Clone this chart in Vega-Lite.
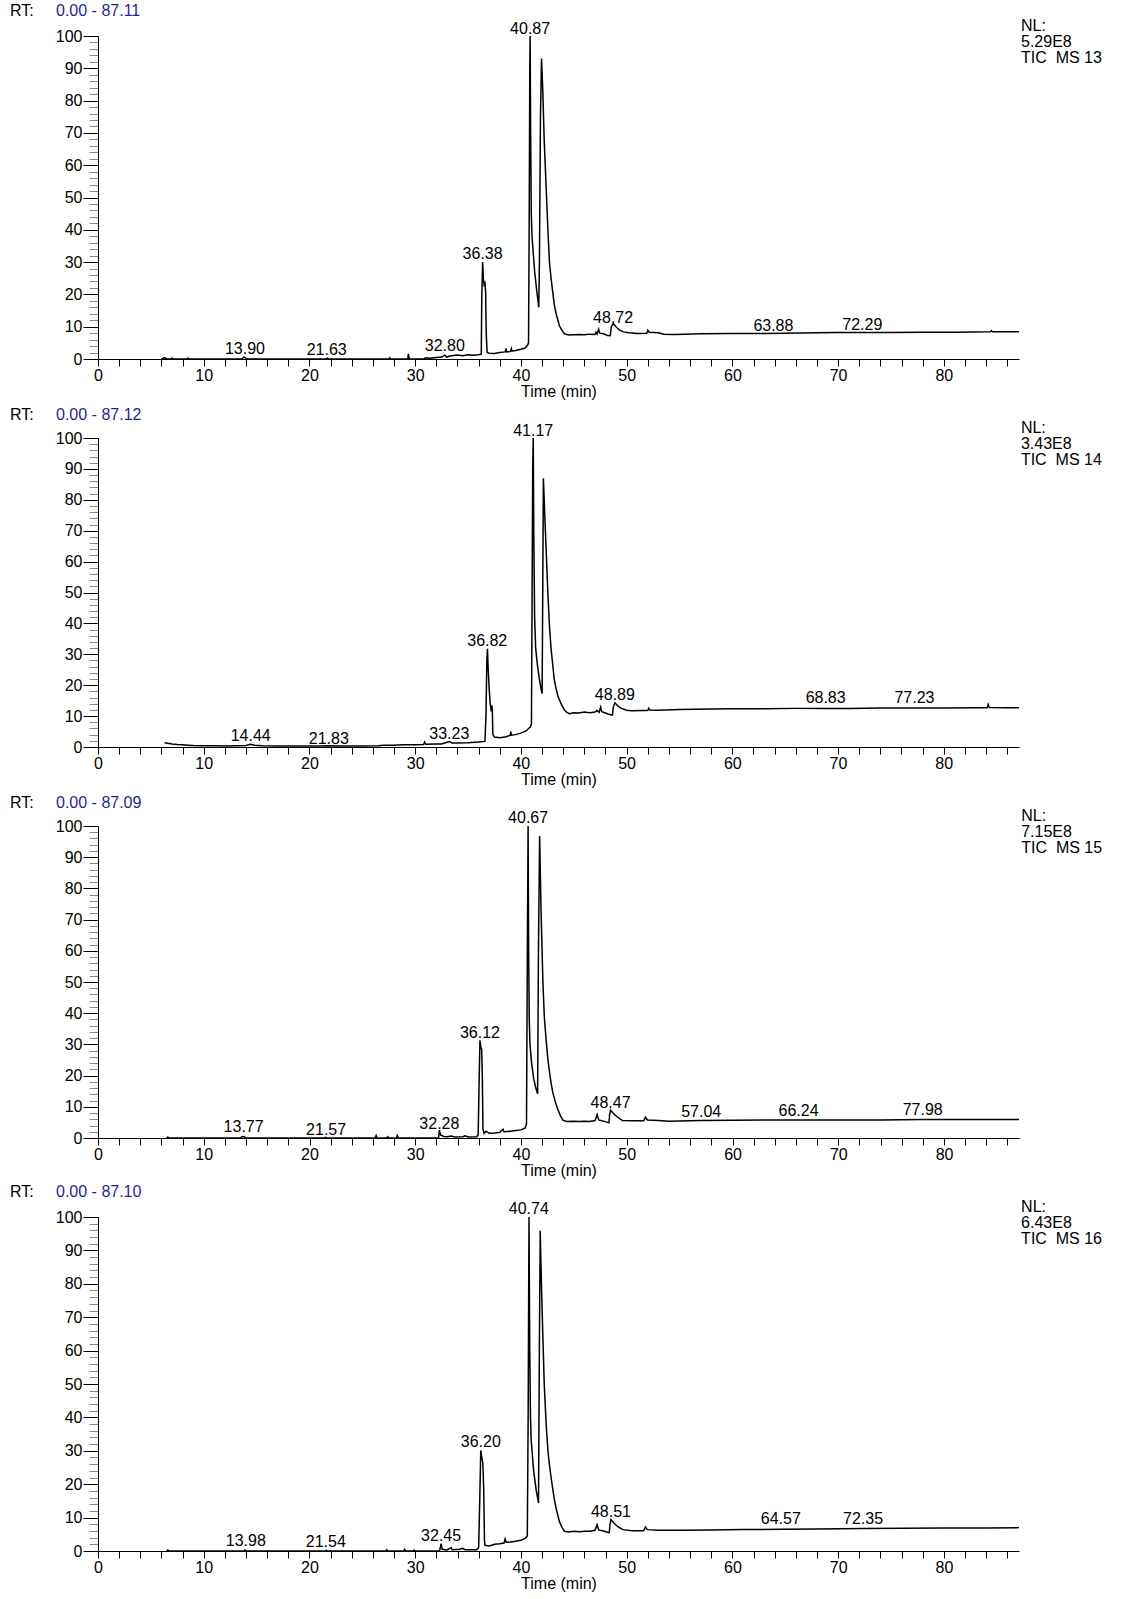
{
"$schema": "https://vega.github.io/schema/vega-lite/v6.json",
"background": "white",
"padding": {"left": 10, "top": 3, "right": 5, "bottom": 5},
"config": {"view": {"stroke": null}, "font": "Liberation Sans", "text": {"font": "Liberation Sans", "fontSize": 16, "color": "#000"},
  "axis": {"tickCount": 200, "format": "d", "grid": false, "labelFontSize": 16, "labelFont": "Liberation Sans", "labelColor": "#000", "labelFlush": false, "labelOverlap": false, "domainColor": "#000", "titleFontSize": 16, "titleFont": "Liberation Sans", "titleFontWeight": "normal", "titleColor": "#000"}},
"datasets": {
"p13": [{"t":6.0,"i":0},{"t":6.3,"i":0.4},{"t":6.5,"i":0},{"t":6.9,"i":0},{"t":7.0,"i":0.3},{"t":7.1,"i":0},{"t":8.4,"i":0},{"t":8.5,"i":0.3},{"t":8.6,"i":0},{"t":13.6,"i":0},{"t":13.8,"i":0.6},{"t":14.0,"i":0.2},{"t":14.2,"i":0},{"t":21.6,"i":0},{"t":21.7,"i":0.3},{"t":21.8,"i":0},{"t":27.5,"i":0},{"t":27.6,"i":0.4},{"t":27.7,"i":0},{"t":29.3,"i":0},{"t":29.35,"i":1.6},{"t":29.45,"i":0},{"t":30.8,"i":0},{"t":31.0,"i":0.4},{"t":31.4,"i":0.2},{"t":32.0,"i":0.5},{"t":32.5,"i":0.6},{"t":32.8,"i":1.2},{"t":33.0,"i":0.6},{"t":33.3,"i":0.9},{"t":33.6,"i":1.1},{"t":34.0,"i":1.2},{"t":34.5,"i":1.0},{"t":35.0,"i":1.3},{"t":35.5,"i":1.2},{"t":36.0,"i":1.3},{"t":36.25,"i":1.5},{"t":36.3,"i":20},{"t":36.38,"i":30},{"t":36.45,"i":25},{"t":36.52,"i":23},{"t":36.6,"i":23.5},{"t":36.66,"i":21},{"t":36.72,"i":8},{"t":36.8,"i":2},{"t":37.0,"i":1.8},{"t":37.5,"i":1.7},{"t":38.0,"i":2.0},{"t":38.5,"i":2.2},{"t":38.6,"i":3.3},{"t":38.65,"i":2.2},{"t":39.0,"i":2.3},{"t":39.1,"i":3.2},{"t":39.15,"i":2.4},{"t":39.5,"i":2.6},{"t":40.0,"i":3.0},{"t":40.4,"i":3.4},{"t":40.65,"i":4.4},{"t":40.72,"i":5},{"t":40.78,"i":40},{"t":40.84,"i":90},{"t":40.87,"i":100},{"t":40.92,"i":70},{"t":40.98,"i":45},{"t":41.05,"i":38},{"t":41.3,"i":27},{"t":41.5,"i":21},{"t":41.69,"i":16},{"t":41.75,"i":30},{"t":41.85,"i":75},{"t":41.95,"i":93},{"t":42.07,"i":83},{"t":42.2,"i":68},{"t":42.39,"i":53},{"t":42.55,"i":40},{"t":42.7,"i":30},{"t":42.85,"i":25},{"t":43.0,"i":21},{"t":43.15,"i":17},{"t":43.33,"i":14},{"t":43.5,"i":12},{"t":43.65,"i":10.2},{"t":43.9,"i":8.8},{"t":44.12,"i":7.8},{"t":44.5,"i":7.4},{"t":45.0,"i":7.5},{"t":45.5,"i":7.6},{"t":46.0,"i":7.5},{"t":46.5,"i":7.7},{"t":47.0,"i":7.6},{"t":47.1,"i":8.3},{"t":47.2,"i":7.7},{"t":47.35,"i":9.2},{"t":47.45,"i":8.0},{"t":47.8,"i":7.8},{"t":48.2,"i":7.3},{"t":48.45,"i":7.2},{"t":48.55,"i":10},{"t":48.72,"i":11},{"t":49.0,"i":10},{"t":49.3,"i":9.0},{"t":49.7,"i":8.4},{"t":50.2,"i":8.1},{"t":51.0,"i":7.9},{"t":51.9,"i":8.0},{"t":52.0,"i":8.9},{"t":52.15,"i":8.3},{"t":53.0,"i":8.1},{"t":53.5,"i":7.7},{"t":54.5,"i":7.6},{"t":55.5,"i":7.7},{"t":57,"i":7.8},{"t":60,"i":7.9},{"t":63,"i":7.9},{"t":65,"i":8.0},{"t":68,"i":8.1},{"t":70,"i":8.2},{"t":72.3,"i":8.2},{"t":75,"i":8.2},{"t":78,"i":8.3},{"t":81,"i":8.3},{"t":84.4,"i":8.4},{"t":84.5,"i":8.8},{"t":84.6,"i":8.4},{"t":87.11,"i":8.4}],
"p14": [{"t":6.3,"i":1.4},{"t":6.6,"i":1.2},{"t":7,"i":1.0},{"t":7.5,"i":0.8},{"t":8.0,"i":0.7},{"t":8.5,"i":0.6},{"t":9,"i":0.5},{"t":10,"i":0.4},{"t":11,"i":0.4},{"t":12,"i":0.3},{"t":13,"i":0.4},{"t":14,"i":0.5},{"t":14.44,"i":0.9},{"t":14.8,"i":0.6},{"t":15.5,"i":0.4},{"t":17,"i":0.3},{"t":19,"i":0.3},{"t":21,"i":0.3},{"t":21.83,"i":0.4},{"t":23,"i":0.3},{"t":25,"i":0.3},{"t":26.5,"i":0.4},{"t":27,"i":0.6},{"t":28,"i":0.6},{"t":29,"i":0.7},{"t":30,"i":0.7},{"t":30.8,"i":0.8},{"t":30.9,"i":1.6},{"t":31.0,"i":0.9},{"t":32,"i":1.0},{"t":32.5,"i":1.0},{"t":33.23,"i":1.8},{"t":33.5,"i":1.3},{"t":34,"i":1.3},{"t":35,"i":1.4},{"t":36,"i":1.6},{"t":36.6,"i":1.8},{"t":36.7,"i":10},{"t":36.78,"i":28},{"t":36.84,"i":31.8},{"t":36.9,"i":26},{"t":37.0,"i":19},{"t":37.1,"i":14},{"t":37.2,"i":11.5},{"t":37.25,"i":13.5},{"t":37.3,"i":12},{"t":37.35,"i":4},{"t":37.5,"i":3.2},{"t":38,"i":3.0},{"t":38.5,"i":3.2},{"t":39.0,"i":3.8},{"t":39.05,"i":5.0},{"t":39.1,"i":3.8},{"t":39.5,"i":4.0},{"t":40.0,"i":4.5},{"t":40.5,"i":5.2},{"t":40.9,"i":6.5},{"t":41.0,"i":7.5},{"t":41.05,"i":40},{"t":41.12,"i":90},{"t":41.17,"i":100},{"t":41.22,"i":70},{"t":41.3,"i":42},{"t":41.4,"i":32},{"t":41.55,"i":27},{"t":41.75,"i":22},{"t":41.9,"i":19},{"t":42.01,"i":17.3},{"t":42.07,"i":50},{"t":42.13,"i":87},{"t":42.25,"i":76},{"t":42.39,"i":64},{"t":42.55,"i":50},{"t":42.7,"i":39.5},{"t":42.85,"i":32},{"t":43.02,"i":26.5},{"t":43.15,"i":22},{"t":43.33,"i":18.9},{"t":43.5,"i":16.5},{"t":43.65,"i":15.2},{"t":43.9,"i":13.3},{"t":44.12,"i":12},{"t":44.35,"i":11.2},{"t":44.59,"i":10.8},{"t":45,"i":11.1},{"t":45.5,"i":11.0},{"t":46,"i":11.3},{"t":46.5,"i":11.1},{"t":47.0,"i":11.3},{"t":47.2,"i":11.8},{"t":47.4,"i":11.2},{"t":47.55,"i":12.9},{"t":47.65,"i":11.4},{"t":48.0,"i":11.0},{"t":48.3,"i":10.6},{"t":48.66,"i":10.3},{"t":48.75,"i":13},{"t":48.9,"i":14.3},{"t":49.2,"i":13.2},{"t":49.5,"i":12.5},{"t":50,"i":11.9},{"t":50.5,"i":11.7},{"t":51.5,"i":11.8},{"t":52.0,"i":11.8},{"t":52.1,"i":12.6},{"t":52.2,"i":12.0},{"t":53,"i":11.9},{"t":55,"i":12.1},{"t":58,"i":12.3},{"t":60,"i":12.4},{"t":63,"i":12.4},{"t":66,"i":12.5},{"t":68.83,"i":12.5},{"t":71,"i":12.5},{"t":74,"i":12.6},{"t":77.23,"i":12.6},{"t":80,"i":12.6},{"t":83,"i":12.7},{"t":84.1,"i":12.7},{"t":84.2,"i":13.8},{"t":84.3,"i":12.8},{"t":86,"i":12.7},{"t":87.12,"i":12.7}],
"p15": [{"t":6.5,"i":0},{"t":6.6,"i":0.3},{"t":6.7,"i":0},{"t":13.5,"i":0},{"t":13.6,"i":0.4},{"t":13.8,"i":0.5},{"t":14.0,"i":0},{"t":21.4,"i":0},{"t":21.5,"i":0.2},{"t":21.6,"i":0},{"t":26.2,"i":0},{"t":26.3,"i":0.8},{"t":26.4,"i":0},{"t":27.3,"i":0},{"t":27.4,"i":0.4},{"t":27.5,"i":0},{"t":28.2,"i":0},{"t":28.3,"i":0.8},{"t":28.4,"i":0},{"t":32.2,"i":0},{"t":32.28,"i":2.5},{"t":32.4,"i":1.0},{"t":32.7,"i":0.5},{"t":33.0,"i":0.4},{"t":33.4,"i":0.6},{"t":33.7,"i":0.3},{"t":34.5,"i":0.4},{"t":34.7,"i":0.7},{"t":35.0,"i":0.3},{"t":35.8,"i":0.4},{"t":35.95,"i":1.0},{"t":36.05,"i":20},{"t":36.12,"i":31.3},{"t":36.2,"i":29},{"t":36.28,"i":28.5},{"t":36.34,"i":20},{"t":36.4,"i":3},{"t":36.5,"i":1.5},{"t":36.7,"i":2.2},{"t":37.0,"i":1.5},{"t":37.5,"i":1.6},{"t":38.0,"i":1.8},{"t":38.3,"i":2.8},{"t":38.4,"i":2.0},{"t":39,"i":2.2},{"t":39.5,"i":2.4},{"t":40.0,"i":2.6},{"t":40.4,"i":3.2},{"t":40.52,"i":4.5},{"t":40.6,"i":60},{"t":40.67,"i":100},{"t":40.72,"i":60},{"t":40.78,"i":38},{"t":40.85,"i":30},{"t":41.0,"i":24},{"t":41.2,"i":19},{"t":41.4,"i":16},{"t":41.57,"i":14.2},{"t":41.65,"i":60},{"t":41.76,"i":96.8},{"t":41.9,"i":72},{"t":42.07,"i":50},{"t":42.2,"i":39},{"t":42.39,"i":30.8},{"t":42.55,"i":25},{"t":42.7,"i":21},{"t":42.85,"i":17.5},{"t":43.0,"i":14.7},{"t":43.25,"i":11.5},{"t":43.5,"i":9},{"t":43.75,"i":7},{"t":43.96,"i":5.7},{"t":44.3,"i":5.3},{"t":45,"i":5.4},{"t":45.5,"i":5.3},{"t":46.0,"i":5.4},{"t":46.5,"i":5.3},{"t":47.0,"i":5.6},{"t":47.2,"i":7.5},{"t":47.35,"i":5.8},{"t":47.8,"i":5.4},{"t":48.2,"i":5.0},{"t":48.32,"i":4.9},{"t":48.38,"i":7.5},{"t":48.47,"i":8.9},{"t":48.8,"i":7.6},{"t":49.2,"i":6.5},{"t":49.6,"i":5.6},{"t":50.5,"i":5.5},{"t":51.6,"i":5.5},{"t":51.77,"i":6.7},{"t":51.95,"i":5.8},{"t":53,"i":5.6},{"t":54,"i":5.4},{"t":56,"i":5.5},{"t":57.04,"i":5.6},{"t":60,"i":5.7},{"t":63,"i":5.8},{"t":66.24,"i":5.8},{"t":70,"i":5.8},{"t":74,"i":5.8},{"t":77.98,"i":5.9},{"t":82,"i":5.9},{"t":87.09,"i":5.9}],
"p16": [{"t":6.5,"i":0},{"t":6.6,"i":0.3},{"t":6.7,"i":0},{"t":13.8,"i":0},{"t":13.9,"i":0.3},{"t":14.0,"i":0},{"t":21.5,"i":0},{"t":21.6,"i":0.2},{"t":21.7,"i":0},{"t":27.2,"i":0},{"t":27.3,"i":0.4},{"t":27.4,"i":0},{"t":28.9,"i":0},{"t":29.0,"i":0.5},{"t":29.1,"i":0},{"t":29.8,"i":0},{"t":29.9,"i":0.3},{"t":30.0,"i":0},{"t":32.3,"i":0},{"t":32.45,"i":2.2},{"t":32.55,"i":0.5},{"t":33.0,"i":0.3},{"t":33.4,"i":1.0},{"t":33.5,"i":0.4},{"t":34.2,"i":0.5},{"t":34.5,"i":0.8},{"t":34.7,"i":0.4},{"t":35.8,"i":0.4},{"t":36.0,"i":1.0},{"t":36.1,"i":15},{"t":36.2,"i":30.1},{"t":36.3,"i":28},{"t":36.4,"i":26.2},{"t":36.48,"i":18},{"t":36.55,"i":3},{"t":36.6,"i":1.7},{"t":37,"i":1.5},{"t":37.5,"i":2.0},{"t":38,"i":2.2},{"t":38.4,"i":2.4},{"t":38.5,"i":3.6},{"t":38.6,"i":2.6},{"t":39,"i":2.7},{"t":39.5,"i":2.9},{"t":40,"i":3.2},{"t":40.4,"i":3.8},{"t":40.6,"i":4.5},{"t":40.68,"i":40},{"t":40.76,"i":100},{"t":40.83,"i":60},{"t":40.9,"i":40},{"t":40.97,"i":33},{"t":41.2,"i":24},{"t":41.45,"i":18},{"t":41.66,"i":14.4},{"t":41.74,"i":60},{"t":41.82,"i":95.9},{"t":41.95,"i":78},{"t":42.07,"i":64.5},{"t":42.2,"i":50},{"t":42.39,"i":37.6},{"t":42.55,"i":30},{"t":42.7,"i":25.6},{"t":42.85,"i":22},{"t":43.0,"i":18.7},{"t":43.15,"i":15.5},{"t":43.33,"i":12.7},{"t":43.5,"i":10.5},{"t":43.65,"i":8.7},{"t":43.9,"i":7},{"t":44.12,"i":5.9},{"t":44.5,"i":5.7},{"t":45,"i":5.9},{"t":45.5,"i":5.8},{"t":46,"i":5.9},{"t":46.5,"i":5.9},{"t":47.0,"i":6.2},{"t":47.2,"i":7.9},{"t":47.35,"i":6.3},{"t":47.8,"i":6.0},{"t":48.2,"i":5.6},{"t":48.35,"i":5.5},{"t":48.42,"i":8.0},{"t":48.51,"i":9.4},{"t":48.8,"i":8.3},{"t":49.2,"i":7.2},{"t":49.63,"i":6.4},{"t":50.5,"i":6.1},{"t":51.6,"i":6.1},{"t":51.78,"i":7.2},{"t":51.95,"i":6.4},{"t":53,"i":6.2},{"t":55,"i":6.2},{"t":58,"i":6.3},{"t":61,"i":6.4},{"t":64.57,"i":6.5},{"t":68,"i":6.6},{"t":72.35,"i":6.7},{"t":76,"i":6.8},{"t":80,"i":6.9},{"t":84,"i":6.9},{"t":87.10,"i":7.0}],
"l13": [{"t":13.90,"i":0.7,"lab":"13.90"},{"t":21.63,"i":0.2,"lab":"21.63"},{"t":32.80,"i":1.5,"lab":"32.80"},{"t":36.38,"i":30,"lab":"36.38"},{"t":40.87,"i":99.8,"lab":"40.87"},{"t":48.72,"i":10.3,"lab":"48.72"},{"t":63.88,"i":7.7,"lab":"63.88"},{"t":72.29,"i":8.2,"lab":"72.29"}],
"l14": [{"t":14.44,"i":0.9,"lab":"14.44"},{"t":21.83,"i":0.1,"lab":"21.83"},{"t":33.23,"i":1.7,"lab":"33.23"},{"t":36.82,"i":31.6,"lab":"36.82"},{"t":41.17,"i":99.8,"lab":"41.17"},{"t":48.89,"i":14.1,"lab":"48.89"},{"t":68.83,"i":13.2,"lab":"68.83"},{"t":77.23,"i":13.2,"lab":"77.23"}],
"l15": [{"t":13.77,"i":1.0,"lab":"13.77"},{"t":21.57,"i":0.0,"lab":"21.57"},{"t":32.28,"i":2.0,"lab":"32.28"},{"t":36.12,"i":31.1,"lab":"36.12"},{"t":40.67,"i":100,"lab":"40.67"},{"t":48.47,"i":8.7,"lab":"48.47"},{"t":57.04,"i":5.8,"lab":"57.04"},{"t":66.24,"i":6.1,"lab":"66.24"},{"t":77.98,"i":6.3,"lab":"77.98"}],
"l16": [{"t":13.98,"i":0.7,"lab":"13.98"},{"t":21.54,"i":0.4,"lab":"21.54"},{"t":32.45,"i":2.0,"lab":"32.45"},{"t":36.20,"i":30.2,"lab":"36.20"},{"t":40.74,"i":100,"lab":"40.74"},{"t":48.51,"i":9.3,"lab":"48.51"},{"t":64.57,"i":7.2,"lab":"64.57"},{"t":72.35,"i":7.2,"lab":"72.35"}]
},
"vconcat": [
{"width": 921, "height": 323,
 "layer": [
  {"data": {"name": "p13"}, "mark": {"type": "line", "color": "#000", "strokeWidth": 1.5},
   "encoding": {
    "x": {"field": "t", "type": "quantitative", "scale": {"domain": [0, 87.11], "nice": false, "zero": false},
      "axis": {"title": "Time (min)", "values": [0,2,4,6,8,10,12,14,16,18,20,22,24,26,28,30,32,34,36,38,40,42,44,46,48,50,52,54,56,58,60,62,64,66,68,70,72,74,76,78,80,82,84,86], "labelExpr": "datum.value % 10 === 0 ? datum.label : ''", "tickSize": 7, "labelPadding": 1, "tickColor": "#000", "titlePadding": 0}},
    "y": {"field": "i", "type": "quantitative", "scale": {"domain": [0, 100], "nice": false},
      "axis": {"title": null, "values": [0,2,4,6,8,10,12,14,16,18,20,22,24,26,28,30,32,34,36,38,40,42,44,46,48,50,52,54,56,58,60,62,64,66,68,70,72,74,76,78,80,82,84,86,88,90,92,94,96,98,100], "labelExpr": "datum.value % 10 === 0 ? datum.label : ''", "tickSize": {"condition": {"test": "datum.value % 10 === 0", "value": 15}, "value": 9}, "tickColor": {"condition": {"test": "datum.value % 10 === 0", "value": "#000"}, "value": "#888"}, "labelPadding": 1}}
   }},
  {"data": {"name": "l13"}, "mark": {"type": "text", "baseline": "alphabetic", "dy": -3},
   "encoding": {"x": {"field": "t", "type": "quantitative"}, "y": {"field": "i", "type": "quantitative"}, "text": {"field": "lab"}}},
  {"data": {"values": [{}]}, "mark": {"type": "text", "align": "left", "baseline": "middle"},
   "encoding": {"x": {"datum": -8.32}, "y": {"datum": 107.6}, "text": {"value": "RT:"}}},
  {"data": {"values": [{}]}, "mark": {"type": "text", "align": "left", "baseline": "middle", "color": "#1f1f9e"},
   "encoding": {"x": {"datum": -3.97}, "y": {"datum": 107.6}, "text": {"value": "0.00 - 87.11"}}},
  {"data": {"values": [{}]}, "mark": {"type": "text", "align": "left", "baseline": "top", "lineHeight": 16},
   "encoding": {"x": {"datum": 87.3}, "y": {"datum": 105.6}, "text": {"value": ["NL:", "5.29E8", "TIC\u00a0 MS 13"]}}}
 ]},
{"width": 921, "height": 309,
 "layer": [
  {"data": {"name": "p14"}, "mark": {"type": "line", "color": "#000", "strokeWidth": 1.5},
   "encoding": {
    "x": {"field": "t", "type": "quantitative", "scale": {"domain": [0, 87.12], "nice": false, "zero": false},
      "axis": {"title": "Time (min)", "values": [0,2,4,6,8,10,12,14,16,18,20,22,24,26,28,30,32,34,36,38,40,42,44,46,48,50,52,54,56,58,60,62,64,66,68,70,72,74,76,78,80,82,84,86], "labelExpr": "datum.value % 10 === 0 ? datum.label : ''", "tickSize": 7, "labelPadding": 1, "tickColor": "#000", "titlePadding": 0}},
    "y": {"field": "i", "type": "quantitative", "scale": {"domain": [0, 100], "nice": false},
      "axis": {"title": null, "values": [0,2,4,6,8,10,12,14,16,18,20,22,24,26,28,30,32,34,36,38,40,42,44,46,48,50,52,54,56,58,60,62,64,66,68,70,72,74,76,78,80,82,84,86,88,90,92,94,96,98,100], "labelExpr": "datum.value % 10 === 0 ? datum.label : ''", "tickSize": {"condition": {"test": "datum.value % 10 === 0", "value": 15}, "value": 9}, "tickColor": {"condition": {"test": "datum.value % 10 === 0", "value": "#000"}, "value": "#888"}, "labelPadding": 1}}
   }},
  {"data": {"name": "l14"}, "mark": {"type": "text", "baseline": "alphabetic", "dy": -3},
   "encoding": {"x": {"field": "t", "type": "quantitative"}, "y": {"field": "i", "type": "quantitative"}, "text": {"field": "lab"}}},
  {"data": {"values": [{}]}, "mark": {"type": "text", "align": "left", "baseline": "middle"},
   "encoding": {"x": {"datum": -8.32}, "y": {"datum": 107.3}, "text": {"value": "RT:"}}},
  {"data": {"values": [{}]}, "mark": {"type": "text", "align": "left", "baseline": "middle", "color": "#1f1f9e"},
   "encoding": {"x": {"datum": -3.97}, "y": {"datum": 107.3}, "text": {"value": "0.00 - 87.12"}}},
  {"data": {"values": [{}]}, "mark": {"type": "text", "align": "left", "baseline": "top", "lineHeight": 16},
   "encoding": {"x": {"datum": 87.3}, "y": {"datum": 105.85}, "text": {"value": ["NL:", "3.43E8", "TIC\u00a0 MS 14"]}}}
 ]},
{"width": 921, "height": 312,
 "layer": [
  {"data": {"name": "p15"}, "mark": {"type": "line", "color": "#000", "strokeWidth": 1.5},
   "encoding": {
    "x": {"field": "t", "type": "quantitative", "scale": {"domain": [0, 87.09], "nice": false, "zero": false},
      "axis": {"title": "Time (min)", "values": [0,2,4,6,8,10,12,14,16,18,20,22,24,26,28,30,32,34,36,38,40,42,44,46,48,50,52,54,56,58,60,62,64,66,68,70,72,74,76,78,80,82,84,86], "labelExpr": "datum.value % 10 === 0 ? datum.label : ''", "tickSize": 7, "labelPadding": 1, "tickColor": "#000", "titlePadding": 0}},
    "y": {"field": "i", "type": "quantitative", "scale": {"domain": [0, 100], "nice": false},
      "axis": {"title": null, "values": [0,2,4,6,8,10,12,14,16,18,20,22,24,26,28,30,32,34,36,38,40,42,44,46,48,50,52,54,56,58,60,62,64,66,68,70,72,74,76,78,80,82,84,86,88,90,92,94,96,98,100], "labelExpr": "datum.value % 10 === 0 ? datum.label : ''", "tickSize": {"condition": {"test": "datum.value % 10 === 0", "value": 15}, "value": 9}, "tickColor": {"condition": {"test": "datum.value % 10 === 0", "value": "#000"}, "value": "#888"}, "labelPadding": 1}}
   }},
  {"data": {"name": "l15"}, "mark": {"type": "text", "baseline": "alphabetic", "dy": -3},
   "encoding": {"x": {"field": "t", "type": "quantitative"}, "y": {"field": "i", "type": "quantitative"}, "text": {"field": "lab"}}},
  {"data": {"values": [{}]}, "mark": {"type": "text", "align": "left", "baseline": "middle"},
   "encoding": {"x": {"datum": -8.32}, "y": {"datum": 107.4}, "text": {"value": "RT:"}}},
  {"data": {"values": [{}]}, "mark": {"type": "text", "align": "left", "baseline": "middle", "color": "#1f1f9e"},
   "encoding": {"x": {"datum": -3.97}, "y": {"datum": 107.4}, "text": {"value": "0.00 - 87.09"}}},
  {"data": {"values": [{}]}, "mark": {"type": "text", "align": "left", "baseline": "top", "lineHeight": 16},
   "encoding": {"x": {"datum": 87.3}, "y": {"datum": 105.75}, "text": {"value": ["NL:", "7.15E8", "TIC\u00a0 MS 15"]}}}
 ]},
{"width": 921, "height": 334,
 "layer": [
  {"data": {"name": "p16"}, "mark": {"type": "line", "color": "#000", "strokeWidth": 1.5},
   "encoding": {
    "x": {"field": "t", "type": "quantitative", "scale": {"domain": [0, 87.10], "nice": false, "zero": false},
      "axis": {"title": "Time (min)", "values": [0,2,4,6,8,10,12,14,16,18,20,22,24,26,28,30,32,34,36,38,40,42,44,46,48,50,52,54,56,58,60,62,64,66,68,70,72,74,76,78,80,82,84,86], "labelExpr": "datum.value % 10 === 0 ? datum.label : ''", "tickSize": 7, "labelPadding": 1, "tickColor": "#000", "titlePadding": 0}},
    "y": {"field": "i", "type": "quantitative", "scale": {"domain": [0, 100], "nice": false},
      "axis": {"title": null, "values": [0,2,4,6,8,10,12,14,16,18,20,22,24,26,28,30,32,34,36,38,40,42,44,46,48,50,52,54,56,58,60,62,64,66,68,70,72,74,76,78,80,82,84,86,88,90,92,94,96,98,100], "labelExpr": "datum.value % 10 === 0 ? datum.label : ''", "tickSize": {"condition": {"test": "datum.value % 10 === 0", "value": 15}, "value": 9}, "tickColor": {"condition": {"test": "datum.value % 10 === 0", "value": "#000"}, "value": "#888"}, "labelPadding": 1}}
   }},
  {"data": {"name": "l16"}, "mark": {"type": "text", "baseline": "alphabetic", "dy": -3},
   "encoding": {"x": {"field": "t", "type": "quantitative"}, "y": {"field": "i", "type": "quantitative"}, "text": {"field": "lab"}}},
  {"data": {"values": [{}]}, "mark": {"type": "text", "align": "left", "baseline": "middle"},
   "encoding": {"x": {"datum": -8.32}, "y": {"datum": 107.5}, "text": {"value": "RT:"}}},
  {"data": {"values": [{}]}, "mark": {"type": "text", "align": "left", "baseline": "middle", "color": "#1f1f9e"},
   "encoding": {"x": {"datum": -3.97}, "y": {"datum": 107.5}, "text": {"value": "0.00 - 87.10"}}},
  {"data": {"values": [{}]}, "mark": {"type": "text", "align": "left", "baseline": "top", "lineHeight": 16},
   "encoding": {"x": {"datum": 87.3}, "y": {"datum": 105.4}, "text": {"value": ["NL:", "6.43E8", "TIC\u00a0 MS 16"]}}}
 ]}
],
"spacing": 79,
"bounds": "flush"
}
